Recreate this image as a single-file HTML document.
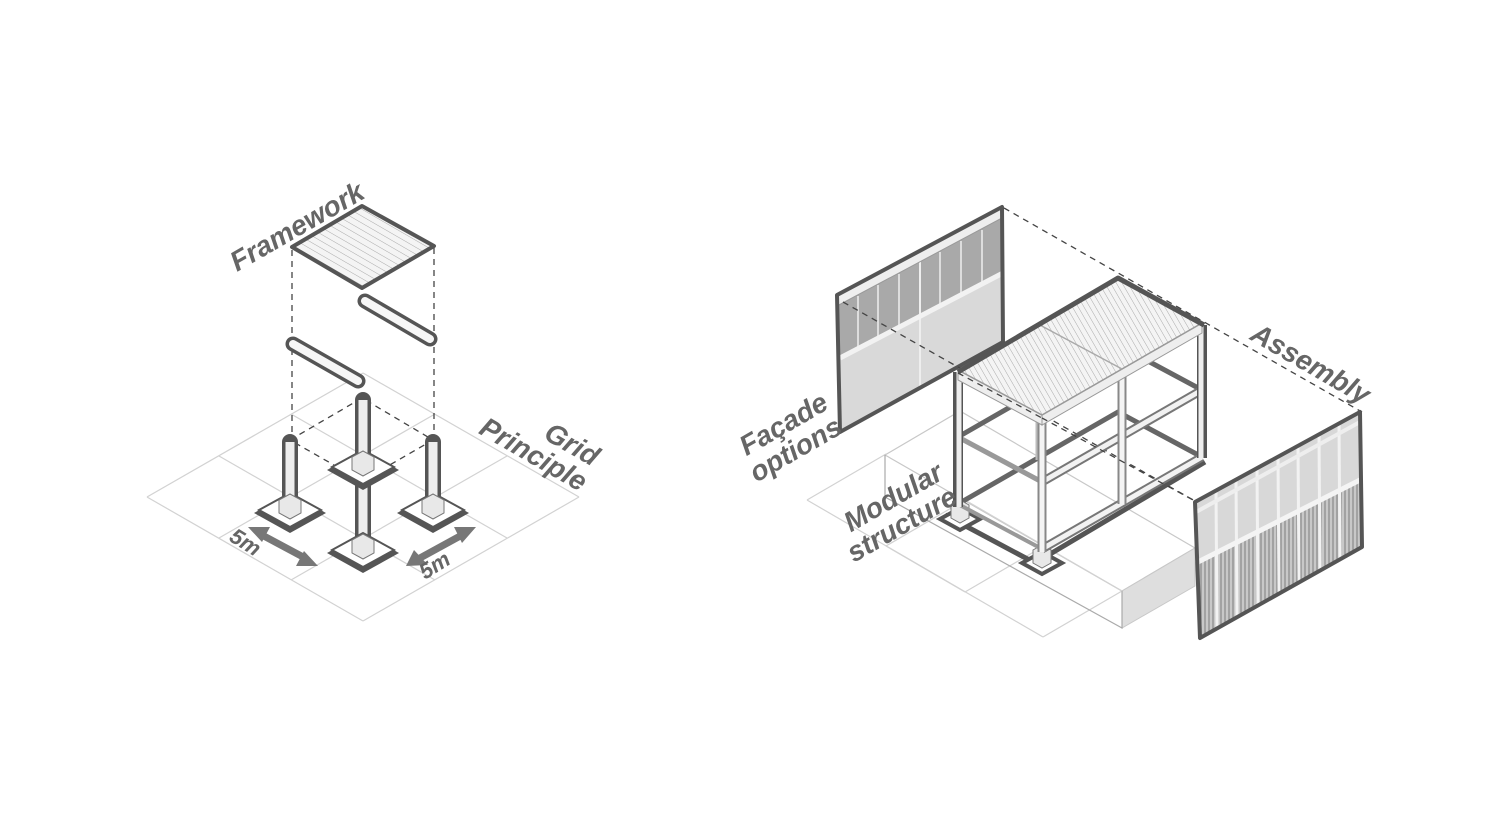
<!DOCTYPE html>
<html><head><meta charset="utf-8"><style>
html,body{margin:0;padding:0;background:#fff;}
svg{display:block;}
text{font-family:"Liberation Sans","DejaVu Sans",sans-serif;font-weight:bold;font-style:italic;fill:#666;}
</style></head><body>
<svg width="1500" height="825" viewBox="0 0 1500 825" xmlns="http://www.w3.org/2000/svg">
<defs>
<pattern id="hatch" width="6" height="6" patternUnits="userSpaceOnUse" patternTransform="rotate(30)">
<rect width="6" height="6" fill="#f4f4f4"/><line x1="0" y1="0" x2="6" y2="0" stroke="#aaa" stroke-width="1"/></pattern>
<pattern id="hatch2" width="5" height="5" patternUnits="userSpaceOnUse" patternTransform="rotate(-30)">
<rect width="5" height="5" fill="#f4f4f4"/><line x1="0" y1="0" x2="0" y2="5" stroke="#aaa" stroke-width="1"/></pattern>
<pattern id="vstripe" width="4" height="4" patternUnits="userSpaceOnUse">
<rect width="4" height="4" fill="#c8c8c8"/><line x1="1" y1="0" x2="1" y2="4" stroke="#888" stroke-width="1.2"/></pattern>
</defs>

<!-- ===== LEFT: grid ===== -->
<g stroke="#d2d2d2" stroke-width="1.2" fill="none">
<line x1="147" y1="497" x2="363" y2="373"/>
<line x1="219" y1="538" x2="435" y2="414"/>
<line x1="291" y1="580" x2="507" y2="456"/>
<line x1="363" y1="621" x2="579" y2="497"/>
<line x1="147" y1="497" x2="363" y2="621"/>
<line x1="219" y1="456" x2="435" y2="580"/>
<line x1="291" y1="414" x2="507" y2="538"/>
<line x1="363" y1="373" x2="579" y2="497"/>
</g>

<g stroke="#444" stroke-width="1.3" stroke-dasharray="6,5" fill="none">
<line x1="292" y1="250" x2="292" y2="440"/>
<line x1="434" y1="248" x2="434" y2="440"/>
<polyline points="290,440 362,398 433,440 362,481 290,440"/>
</g>

<polygon points="292,247 362,206 434,246 362,288" fill="url(#hatch)" stroke="#555" stroke-width="4" stroke-linejoin="round"/>
<g stroke-linecap="round">
<line x1="365" y1="301" x2="430" y2="339" stroke="#555" stroke-width="15"/>
<line x1="365" y1="301" x2="430" y2="339" stroke="#f6f6f6" stroke-width="8"/>
<line x1="293" y1="344" x2="358" y2="381" stroke="#555" stroke-width="15"/>
<line x1="293" y1="344" x2="358" y2="381" stroke="#f6f6f6" stroke-width="8"/>
</g>

<g>
<polygon points="254,513 290,493 326,513 290,533" fill="#555"/>
<polygon points="259,510 290,493 321,510 290,527" fill="#fff" stroke="#555" stroke-width="2"/>
<line x1="290" y1="442" x2="290" y2="495" stroke="#555" stroke-width="16" stroke-linecap="round"/>
<line x1="290" y1="442" x2="290" y2="497" stroke="#eee" stroke-width="9"/>
<polygon points="279,500 290,494 301,500 301,513 290,519 279,513" fill="#e8e8e8" stroke="#777" stroke-width="1"/>
</g>
<g>
<polygon points="397,513 433,493 469,513 433,533" fill="#555"/>
<polygon points="402,510 433,493 464,510 433,527" fill="#fff" stroke="#555" stroke-width="2"/>
<line x1="433" y1="442" x2="433" y2="495" stroke="#555" stroke-width="16" stroke-linecap="round"/>
<line x1="433" y1="442" x2="433" y2="497" stroke="#eee" stroke-width="9"/>
<polygon points="422,500 433,494 444,500 444,513 433,519 422,513" fill="#e8e8e8" stroke="#777" stroke-width="1"/>
</g>
<g>
<line x1="363" y1="478" x2="363" y2="538" stroke="#555" stroke-width="16" stroke-linecap="round"/>
<line x1="363" y1="480" x2="363" y2="540" stroke="#eee" stroke-width="9"/>
<polygon points="327,553 363,533 399,553 363,573" fill="#555"/>
<polygon points="332,550 363,533 394,550 363,567" fill="#fff" stroke="#555" stroke-width="2"/>
<polygon points="352,540 363,534 374,540 374,553 363,559 352,553" fill="#e8e8e8" stroke="#777" stroke-width="1"/>
</g>
<g>
<polygon points="327,470 363,450 399,470 363,490" fill="#555"/>
<polygon points="332,467 363,450 394,467 363,484" fill="#fff" stroke="#555" stroke-width="2"/>
<line x1="363" y1="400" x2="363" y2="452" stroke="#555" stroke-width="16" stroke-linecap="round"/>
<line x1="363" y1="400" x2="363" y2="455" stroke="#eee" stroke-width="9"/>
<polygon points="352,457 363,451 374,457 374,470 363,476 352,470" fill="#e8e8e8" stroke="#777" stroke-width="1"/>
</g>

<!-- arrows -->
<g stroke="#777" stroke-width="7">
<line x1="262" y1="535" x2="305" y2="558"/>
<line x1="420" y1="558" x2="462" y2="535"/>
</g>
<g fill="#777">
<polygon points="248,527 270,527 262,542"/>
<polygon points="318,566 296,566 304,551"/>
<polygon points="406,566 414,550 428,565"/>
<polygon points="476,527 454,527 462,543"/>
</g>
<text font-size="22" transform="translate(228,540) rotate(32)">5m</text>
<text font-size="22" transform="translate(425,580) rotate(-32)">5m</text>
<text font-size="28" transform="translate(237,272) rotate(-30)">Framework</text>
<g transform="translate(580,492) rotate(30)">
<text font-size="28" text-anchor="end" x="-2" y="-28">Grid</text>
<text font-size="28" text-anchor="end" x="0" y="0">Principle</text>
</g>

<!-- ===== RIGHT ===== -->
<g stroke="#d2d2d2" stroke-width="1.2" fill="none">
<line x1="807" y1="500" x2="1043" y2="637"/>
<line x1="886" y1="454" x2="1122" y2="591"/>
<line x1="807" y1="500" x2="886" y2="454"/>
<line x1="886" y1="546" x2="965" y2="500"/>
<line x1="965" y1="592" x2="1044" y2="546"/>
<line x1="1043" y1="637" x2="1122" y2="591"/>
<line x1="886" y1="546" x2="965" y2="592"/>
</g>
<polygon points="885,455 960,411 1195,548 1122,591" fill="#fff" stroke="#c8c8c8" stroke-width="1.2"/>
<polygon points="1122,591 1195,548 1195,586 1122,628" fill="#dedede" stroke="#c8c8c8" stroke-width="1"/>
<polyline points="885,455 885,497 1122,628 1122,591" fill="none" stroke="#aaa" stroke-width="1.2"/>
<line x1="965" y1="500" x2="1122" y2="591" stroke="#d2d2d2" stroke-width="1.2"/>

<polygon points="837,295 1002,207 1003,342 840,432" fill="#d9d9d9"/>
<polygon points="837,303 1002,215 1003,273 840,358" fill="#a9a9a9"/>
<g stroke="#ddd" stroke-width="2">
<line x1="858" y1="296" x2="858" y2="347"/><line x1="878" y1="285" x2="878" y2="336"/>
<line x1="899" y1="274" x2="899" y2="325"/><line x1="940" y1="252" x2="940" y2="304"/>
<line x1="961" y1="241" x2="961" y2="293"/><line x1="982" y1="230" x2="982" y2="282"/>
</g>
<line x1="920" y1="250" x2="920" y2="388" stroke="#eee" stroke-width="2"/>
<polygon points="837,295 1002,207 1002,218 837,306" fill="#eee" stroke="#999" stroke-width="1"/>
<line x1="840" y1="358" x2="1003" y2="273" stroke="#f2f2f2" stroke-width="5"/>
<polygon points="837,295 1002,207 1003,342 840,432" fill="none" stroke="#555" stroke-width="4" stroke-linejoin="round"/>

<g stroke="#444" stroke-width="1.3" stroke-dasharray="6,5" fill="none">
<line x1="1004" y1="208" x2="1362" y2="412"/>
<line x1="843" y1="302" x2="1195" y2="501"/>
</g>

<g fill="none" stroke-linejoin="round">
<polygon points="958,504 1042,549 1202,457 1118,412" stroke="#888" stroke-width="2"/>
<polygon points="958,437 1042,482 1202,390 1118,345" stroke="#999" stroke-width="2"/>
<polyline points="958,437 1118,345 1202,390" stroke="#666" stroke-width="5"/>
<polyline points="958,504 1118,412 1202,457" stroke="#666" stroke-width="5"/>
<line x1="1038" y1="324" x2="1038" y2="460" stroke="#bbb" stroke-width="5"/>
</g>
<polyline points="945,515 1035,563 1205,462" fill="none" stroke="#555" stroke-width="5"/>
<polygon points="940,519 960,508 980,519 960,530" fill="#fff" stroke="#555" stroke-width="4"/>
<polygon points="1022,563 1042,552 1062,563 1042,574" fill="#fff" stroke="#555" stroke-width="4"/>
<polygon points="951,505 960,500 969,505 969,518 960,523 951,518" fill="#e8e8e8" stroke="#777"/>
<polygon points="1033,550 1042,545 1051,550 1051,563 1042,568 1033,563" fill="#e8e8e8" stroke="#777"/>
<g>
<line x1="1042" y1="482" x2="1202" y2="390" stroke="#777" stroke-width="9"/>
<line x1="1042" y1="482" x2="1202" y2="390" stroke="#f2f2f2" stroke-width="5"/>
<line x1="958" y1="437" x2="1042" y2="482" stroke="#999" stroke-width="5"/>
<line x1="1042" y1="549" x2="1202" y2="457" stroke="#777" stroke-width="9"/>
<line x1="1042" y1="549" x2="1202" y2="457" stroke="#f2f2f2" stroke-width="5"/>
<line x1="958" y1="504" x2="1042" y2="549" stroke="#999" stroke-width="4"/>
</g>
<g>
<line x1="958" y1="372" x2="958" y2="507" stroke="#555" stroke-width="10"/>
<line x1="959" y1="372" x2="959" y2="507" stroke="#eee" stroke-width="5"/>
<line x1="1202" y1="325" x2="1202" y2="458" stroke="#555" stroke-width="10"/>
<line x1="1201" y1="325" x2="1201" y2="458" stroke="#eee" stroke-width="5"/>
<line x1="1122" y1="370" x2="1122" y2="504" stroke="#888" stroke-width="9"/>
<line x1="1122" y1="370" x2="1122" y2="504" stroke="#f4f4f4" stroke-width="5"/>
<line x1="1042" y1="417" x2="1042" y2="552" stroke="#888" stroke-width="9"/>
<line x1="1042" y1="417" x2="1042" y2="552" stroke="#f4f4f4" stroke-width="5"/>
</g>
<polygon points="958,370 1042,415 1042,425 958,380" fill="#eee" stroke="#999" stroke-width="1"/>
<polygon points="1042,415 1202,323 1202,333 1042,425" fill="#eee" stroke="#999" stroke-width="1"/>
<polygon points="958,370 1118,278 1202,323 1042,415" fill="url(#hatch2)" stroke="#999" stroke-width="1.5"/>
<line x1="1038" y1="324" x2="1122" y2="369" stroke="#aaa" stroke-width="1.5"/>
<polyline points="958,372 1118,278 1204,325" fill="none" stroke="#555" stroke-width="5" stroke-linejoin="round"/>
<line x1="958" y1="373" x2="1042" y2="418" stroke="#444" stroke-width="1.3" stroke-dasharray="6,5"/>
<line x1="1042" y1="418" x2="1195" y2="501" stroke="#444" stroke-width="1.3" stroke-dasharray="6,5"/>

<polygon points="1195,502 1360,412 1360,480 1196,563" fill="#d8d8d8"/>
<polygon points="1196,563 1360,480 1362,547 1200,638" fill="url(#vstripe)"/>
<g stroke="#f2f2f2" stroke-width="3">
<line x1="1216" y1="491" x2="1217" y2="628"/><line x1="1236" y1="480" x2="1237" y2="617"/>
<line x1="1257" y1="468" x2="1258" y2="605"/><line x1="1278" y1="457" x2="1279" y2="594"/>
<line x1="1298" y1="446" x2="1299" y2="583"/><line x1="1319" y1="435" x2="1320" y2="572"/>
<line x1="1339" y1="424" x2="1340" y2="561"/>
</g>
<line x1="1196" y1="563" x2="1360" y2="480" stroke="#f4f4f4" stroke-width="5"/>
<line x1="1196" y1="512" x2="1360" y2="422" stroke="#eee" stroke-width="4"/>
<polygon points="1195,502 1360,412 1362,547 1200,638" fill="none" stroke="#555" stroke-width="4" stroke-linejoin="round"/>

<g transform="translate(830,408) rotate(-30)">
<text font-size="28" text-anchor="end" x="0" y="0">Façade</text>
<text font-size="28" text-anchor="end" x="0" y="28">options</text>
</g>
<g transform="translate(945,478) rotate(-30)">
<text font-size="28" text-anchor="end" x="0" y="0">Modular</text>
<text font-size="28" text-anchor="end" x="0" y="28">structure</text>
</g>
<text font-size="28" text-anchor="middle" transform="translate(1306,372) rotate(30)">Assembly</text>
</svg>
</body></html>
